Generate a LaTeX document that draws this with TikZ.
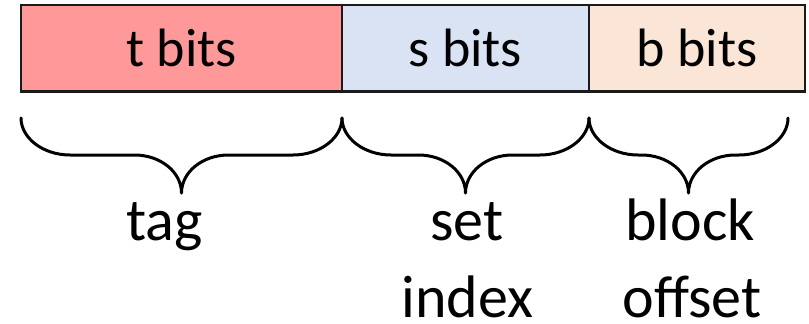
\documentclass[tikz,border=0pt]{standalone}
\usepackage{fontspec}
\setmainfont{Carlito}
\definecolor{tagred}{HTML}{FF9999}
\definecolor{setblue}{HTML}{DAE3F3}
\definecolor{offpeach}{HTML}{FBE5D6}
\definecolor{edgegray}{HTML}{1A1A1A}

% curly brace under a field: #1 left end, #2 right end, #3 tip
\newcommand\officebrace[3]{%
  \draw[bracestyle]
    (#1,118) .. controls (#1,138) and (#1+22,155) .. (#1+49,155)
    -- (#3-47,155) .. controls (#3-21,155) and (#3,172) .. (#3,193)
    .. controls (#3,172) and (#3+21,155) .. (#3+47,155)
    -- (#2-49,155) .. controls (#2-22,155) and (#2,138) .. (#2,118);}

\begin{document}
\begin{tikzpicture}[x=1pt,y=-1pt,
  field/.style={draw=edgegray, line width=2.5pt, minimum height=86.5pt,
    inner sep=0pt, font=\fontsize{54}{64}\selectfont, text=black},
  bracestyle/.style={draw=black, line width=3pt, line cap=round, line join=round},
  label/.style={anchor=base, inner sep=0pt, text depth=0pt,
    font=\fontsize{60}{72}\selectfont}]
  \useasboundingbox (0,0) rectangle (809,324);

  % address fields
  \node[field, fill=tagred, minimum width=321pt] (tbits) at (181.5,48.25) {t bits};
  \node[field, fill=setblue, minimum width=247pt] (sbits) at (465.5,48.25) {s bits};
  \node[field, fill=offpeach, minimum width=216pt] (bbits) at (697,48.25) {b bits};

  % braces
  \officebrace{21}{342}{181.5}
  \officebrace{342}{589}{465.5}
  \officebrace{589}{788}{688.5}

  % labels
  \node[label] (tag) at (164.5,240) {tag};
  \node[label] (set) at (467,240) {set};
  \node[label] (index) at (467.5,317) {index};
  \node[label] (block) at (690,240) {block};
  \node[label] (offset) at (692,317) {offset};
\end{tikzpicture}
\end{document}
